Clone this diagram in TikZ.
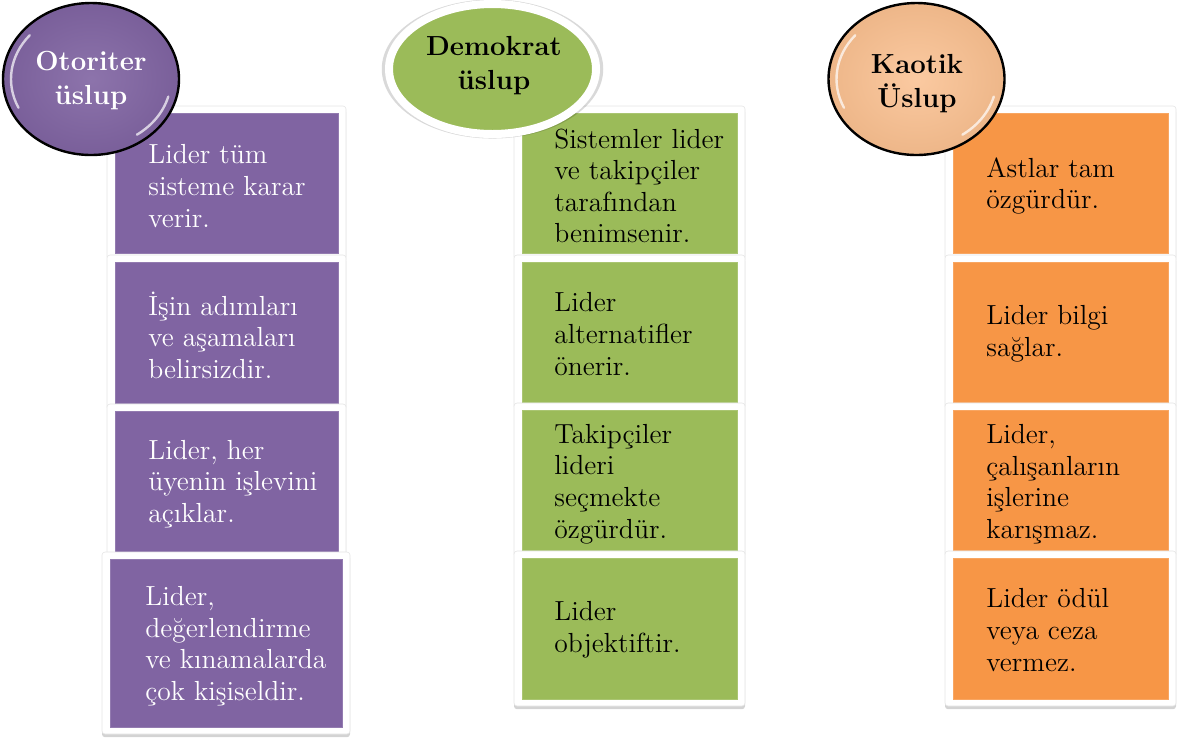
\documentclass[tikz,border=0pt]{standalone}
\usetikzlibrary{shapes.geometric,shadows,calc}
\definecolor{purp}{HTML}{8064A2}
\definecolor{grn}{HTML}{9BBB59}
\definecolor{org}{HTML}{F79646}
\definecolor{lorg}{HTML}{FAC090}
\tikzset{
  frame/.style={fill=white, rounded corners=1.5pt, inner sep=0pt, draw=black!10, line width=0.3pt,
    drop shadow={shadow xshift=0pt, shadow yshift=-1.6pt, opacity=0.35}},
  cell/.style={inner sep=0pt, draw=#1!85!white, line width=0.3pt, fill=#1},
  btxt/.style={anchor=west, align=left, inner sep=0pt, font=\fontsize{13.8}{15.8}\selectfont},
  ttl/.style={align=center, inner sep=0pt, font=\fontsize{13.8}{17}\selectfont\bfseries},
  gloss/.style={ellipse, inner sep=0pt, minimum width=88pt, minimum height=76pt, draw=black, line width=1.2pt},
  shine/.style={white, opacity=0.7, line width=1.2pt, line cap=round}
}
% #1 name, #2 cx, #3 cy (px), #4 inner width pt, #5 inner height pt, #6 colour
\newcommand\mkcell[6]{%
  \node[frame, minimum width=#4pt+8pt, minimum height=#5pt+7pt] (f-#1) at (#2,#3) {};
  \node[cell=#6, minimum width=#4pt, minimum height=#5pt] (c-#1) at (#2,#3) {};
}
\begin{document}
\begin{tikzpicture}[x=0.5pt, y=-0.5pt]
\useasboundingbox (0,0) rectangle (1186,741);

% ---------- purple column ----------
\mkcell{p1}{226.5}{183}{111.5}{70}{purp}
\mkcell{p2}{226.5}{332.5}{111.5}{70.5}{purp}
\mkcell{p3}{226.5}{481.5}{111.5}{70.5}{purp}
\mkcell{p4}{226}{643}{116}{84}{purp}
\node[btxt, text=white] (t-p1) at (148,186) {Lider tüm\\sisteme karar\\verir.};
\node[btxt, text=white] (t-p2) at (148,335) {İşin adımları\\ve aşamaları\\belirsizdir.};
\node[btxt, text=white] (t-p3) at (148,484) {Lider, her\\üyenin işlevini\\açıklar.};
\node[btxt, text=white] (t-p4) at (145,646) {Lider,\\değerlendirme\\ve kınamalarda\\çok kişiseldir.};

% ---------- green column ----------
\mkcell{g1}{629.5}{183}{107.5}{70}{grn}
\mkcell{g2}{629.5}{332}{107.5}{70}{grn}
\mkcell{g3}{629.5}{480}{107.5}{70}{grn}
\mkcell{g4}{629.5}{628.5}{107.5}{70.5}{grn}
\node[btxt] (t-g1) at (554,186) {Sistemler lider\\ve takipçiler\\tarafından\\benimsenir.};
\node[btxt] (t-g2) at (554,334) {Lider\\alternatifler\\önerir.};
\node[btxt] (t-g3) at (554,484) {Takipçiler\\lideri\\seçmekte\\özgürdür.};
\node[btxt] (t-g4) at (554,630) {Lider\\objektiftir.};

% ---------- orange column ----------
\mkcell{o1}{1060.5}{183}{107.5}{70}{org}
\mkcell{o2}{1060.5}{332}{107.5}{70}{org}
\mkcell{o3}{1060.5}{480}{107.5}{70}{org}
\mkcell{o4}{1060.5}{628.5}{107.5}{70.5}{org}
\node[btxt] (t-o1) at (986,186) {Astlar tam\\özgürdür.};
\node[btxt] (t-o2) at (986,334) {Lider bilgi\\sağlar.};
\node[btxt] (t-o3) at (986,484) {Lider,\\çalışanların\\işlerine\\karışmaz.};
\node[btxt] (t-o4) at (986,630) {Lider ödül\\veya ceza\\vermez.};

% ---------- title ellipses ----------
\node[gloss, inner color=purp!90!white, outer color=purp!95!black] (e-ot) at (91,79) {};
\draw[shine] ($(e-ot.center)+(140:40pt and 34pt)$) arc[start angle=140, end angle=205, x radius=40pt, y radius=34pt];
\draw[shine] ($(e-ot.center)+(305:40pt and 34pt)$) arc[start angle=305, end angle=345, x radius=40pt, y radius=34pt];
\node[ttl, text=white] (l-ot) at (91,81) {Otoriter\\üslup};

\node[ellipse, inner sep=0pt, minimum width=103.5pt, minimum height=65pt, fill=grn, draw=white, line width=4pt,
  general shadow={shadow scale=1.07, fill=black, opacity=0.15}] (e-de) at (492.5,69) {};
\node[ttl] (l-de) at (494,66) {Demokrat\\üslup};

\node[gloss, inner color=lorg!85!white, outer color=lorg!95!black] (e-ka) at (916.5,79) {};
\draw[shine] ($(e-ka.center)+(140:40pt and 34pt)$) arc[start angle=140, end angle=205, x radius=40pt, y radius=34pt];
\draw[shine] ($(e-ka.center)+(305:40pt and 34pt)$) arc[start angle=305, end angle=345, x radius=40pt, y radius=34pt];
\node[ttl] (l-ka) at (917,84) {Kaotik\\Üslup};
\end{tikzpicture}
\end{document}
